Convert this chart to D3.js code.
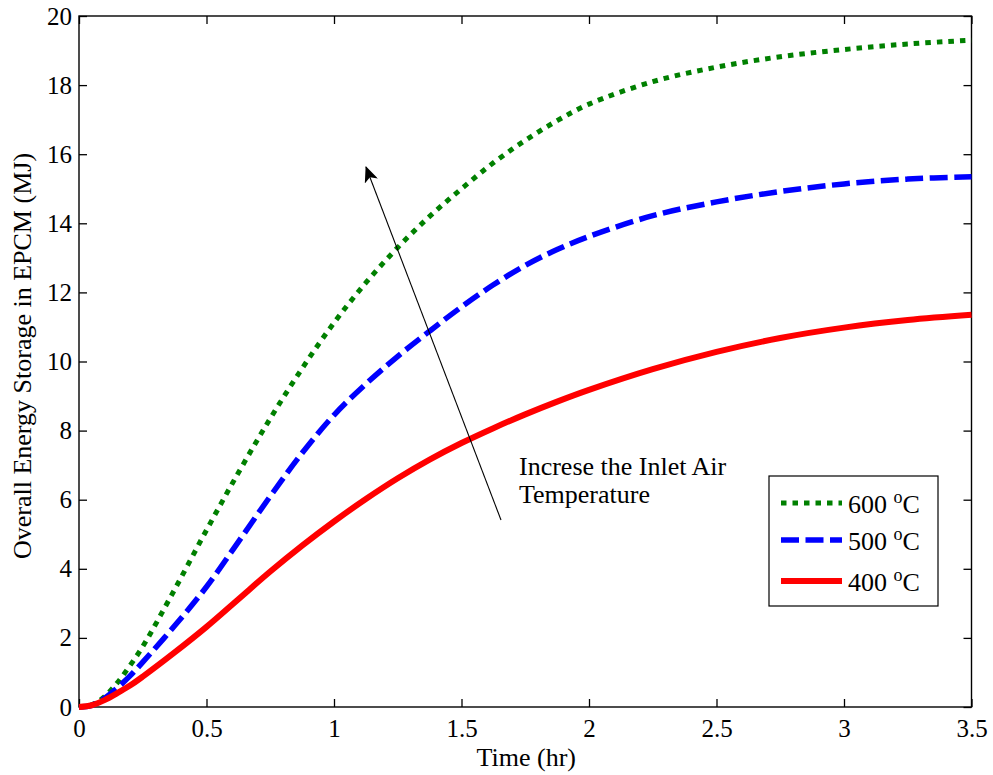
<!DOCTYPE html>
<html>
<head>
<meta charset="utf-8">
<script src="https://cdn.jsdelivr.net/npm/d3@7/dist/d3.min.js"></script>
<style>
  html, body { margin: 0; padding: 0; background: #fff; }
  svg { display: block; font-family: "Liberation Serif", "Times New Roman", serif; }
</style>
</head>
<body>
<svg id="chart" width="993" height="775"></svg>
<script>
// Time (hr) sample points shared by the three inlet-temperature runs
const timeHr = [0, 0.05, 0.1, 0.15, 0.2, 0.25, 0.375, 0.5, 0.625, 0.75, 0.875, 1.0, 1.125, 1.25, 1.375, 1.5, 1.625, 1.75, 1.875, 2.0, 2.25, 2.5, 2.75, 3.0, 3.25, 3.5];

// Overall energy storage in EPCM (MJ)
const energy600 = [0, 0.06, 0.3, 0.7, 1.2, 1.75, 3.4, 5.12, 6.78, 8.35, 9.8, 11.12, 12.28, 13.3, 14.2, 15.0, 15.75, 16.4, 16.97, 17.45, 18.1, 18.52, 18.82, 19.03, 19.19, 19.3];
const energy500 = [0, 0.05, 0.25, 0.55, 0.9, 1.3, 2.35, 3.48, 4.78, 6.1, 7.35, 8.45, 9.35, 10.15, 10.88, 11.58, 12.22, 12.78, 13.24, 13.62, 14.22, 14.62, 14.92, 15.14, 15.28, 15.35];
const energy400 = [0, 0.05, 0.2, 0.4, 0.62, 0.88, 1.58, 2.32, 3.12, 3.92, 4.67, 5.37, 6.02, 6.62, 7.16, 7.64, 8.07, 8.47, 8.84, 9.18, 9.78, 10.28, 10.68, 10.98, 11.2, 11.35];

const seriesNames = ["600", "500", "400"];

const xTicks = [0, 0.5, 1, 1.5, 2, 2.5, 3, 3.5];
const xTickLabels = ["0", "0.5", "1", "1.5", "2", "2.5", "3", "3.5"];
const yTicks = [0, 2, 4, 6, 8, 10, 12, 14, 16, 18, 20];

const xLabel = "Time (hr)";
const yLabel = "Overall Energy Storage in EPCM (MJ)";
const noteLines = ["Increse the Inlet Air", "Temperature"];

const svg = d3.select("#chart");
const plotL = 79, plotR = 971.5, plotT = 16, plotB = 707;
const FS = 25, LFS = 26;

const x = d3.scaleLinear().domain([0, 3.5]).range([plotL, plotR]);
const y = d3.scaleLinear().domain([0, 20]).range([plotB, plotT]);

const styles = [
  { values: energy600, color: "#008000", width: 5, dash: "5.5,6" },
  { values: energy500, color: "#0000ff", width: 5.5, dash: "18,6.5" },
  { values: energy400, color: "#ff0000", width: 6, dash: null }
];

// axes with inward ticks on all four sides
const tickLen = 8;
const axB = svg.append("g").attr("transform", `translate(0,${plotB})`)
  .call(d3.axisBottom(x).tickValues(xTicks).tickFormat((d, i) => xTickLabels[i]).tickSizeInner(-tickLen).tickSizeOuter(0).tickPadding(12));
const axT = svg.append("g").attr("transform", `translate(0,${plotT})`)
  .call(d3.axisTop(x).tickValues(xTicks).tickFormat("").tickSizeInner(-tickLen).tickSizeOuter(0));
const axL = svg.append("g").attr("transform", `translate(${plotL},0)`)
  .call(d3.axisLeft(y).tickValues(yTicks).tickFormat(d3.format("d")).tickSizeInner(-tickLen).tickSizeOuter(0).tickPadding(7));
const axR = svg.append("g").attr("transform", `translate(${plotR},0)`)
  .call(d3.axisRight(y).tickValues(yTicks).tickFormat("").tickSizeInner(-tickLen).tickSizeOuter(0));

[axB, axT, axL, axR].forEach(g => {
  g.select(".domain").remove();
  g.selectAll(".tick line").attr("stroke", "#000").attr("stroke-width", 1.3);
  g.selectAll(".tick text").attr("font-family", "Liberation Serif").attr("font-size", FS).attr("fill", "#000");
});
axB.selectAll(".tick text").attr("dy", "0.71em");

// plot box
svg.append("rect")
  .attr("x", plotL).attr("y", plotT)
  .attr("width", plotR - plotL).attr("height", plotB - plotT)
  .attr("fill", "none").attr("stroke", "#000").attr("stroke-width", 1.4);

// curves
const line = d3.line()
  .x((d, i) => x(timeHr[i]))
  .y(d => y(d))
  .curve(d3.curveCatmullRom.alpha(0.5));

styles.forEach(s => {
  svg.append("path")
    .datum(s.values)
    .attr("d", line)
    .attr("fill", "none")
    .attr("stroke", s.color)
    .attr("stroke-width", s.width)
    .attr("stroke-dasharray", s.dash)
    .attr("stroke-linejoin", "round");
});

// annotation arrow
const defs = svg.append("defs");
defs.append("marker")
  .attr("id", "head")
  .attr("viewBox", "0 0 16 14")
  .attr("refX", 15).attr("refY", 7)
  .attr("markerWidth", 16).attr("markerHeight", 14)
  .attr("markerUnits", "userSpaceOnUse")
  .attr("orient", "auto")
  .append("path")
  .attr("d", "M0,0 L16,7 L0,14 L4,7 Z")
  .attr("fill", "#000");

svg.append("line")
  .attr("x1", 501).attr("y1", 520)
  .attr("x2", 366).attr("y2", 167)
  .attr("stroke", "#000").attr("stroke-width", 1.1)
  .attr("marker-end", "url(#head)");

const note = svg.append("text")
  .attr("x", 519).attr("y", 475)
  .attr("font-size", LFS).attr("fill", "#000");
noteLines.forEach((t, i) => {
  note.append("tspan").attr("x", 519).attr("dy", i === 0 ? 0 : 28).text(t);
});

// axis titles
svg.append("text")
  .attr("x", (plotL + plotR) / 2 + 1).attr("y", 766)
  .attr("text-anchor", "middle")
  .attr("font-size", LFS).attr("fill", "#000")
  .text(xLabel);

svg.append("text")
  .attr("transform", `translate(31,356) rotate(-90)`)
  .attr("text-anchor", "middle")
  .attr("font-size", LFS).attr("fill", "#000")
  .text(yLabel);

// legend
const lg = svg.append("g");
lg.append("rect")
  .attr("x", 769).attr("y", 476).attr("width", 169).attr("height", 130)
  .attr("fill", "#fff").attr("stroke", "#000").attr("stroke-width", 1.2);

const rowY = [503, 540, 581];
styles.forEach((s, i) => {
  lg.append("line")
    .attr("x1", 781).attr("x2", 842)
    .attr("y1", rowY[i]).attr("y2", rowY[i])
    .attr("stroke", s.color).attr("stroke-width", s.width)
    .attr("stroke-dasharray", s.dash);
  const t = lg.append("text")
    .attr("x", 848).attr("y", rowY[i] + 10)
    .attr("font-size", LFS).attr("fill", "#000");
  t.append("tspan").text(seriesNames[i] + " ");
  t.append("tspan").attr("font-size", 18).attr("dy", -10).text("o");
  t.append("tspan").attr("dy", 10).text("C");
});
</script>
</body>
</html>
